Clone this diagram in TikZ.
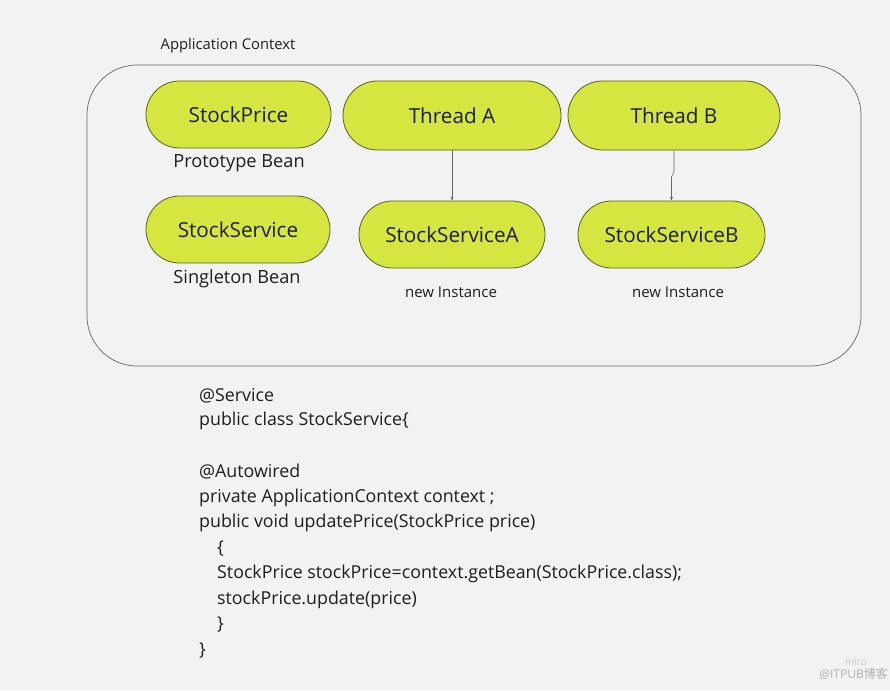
\documentclass[tikz,border=0pt]{standalone}
\usepackage{fontspec}
\setmainfont{Open Sans}
\newfontfamily\cjk{Noto Sans CJK SC}
\usetikzlibrary{arrows.meta}
\definecolor{bg}{HTML}{F2F2F2}
\definecolor{pillfill}{HTML}{D4E63F}
\definecolor{pilledge}{HTML}{5A5F28}
\definecolor{ink}{HTML}{1E1E1E}
\tikzset{
  pill/.style={draw=pilledge, fill=pillfill, line width=0.8pt, rounded corners=33.5pt,
    minimum height=67pt, inner sep=0pt, text=ink, font=\fontsize{20.7}{24}\selectfont},
  caption/.style={text=ink, font=\fontsize{18.2}{21}\selectfont, inner sep=0pt},
  small/.style={text=ink, font=\fontsize{15}{18}\selectfont, inner sep=0pt},
  code/.style={text=ink, font=\fontsize{17.8}{21}\selectfont, inner sep=0pt, anchor=west},
  conn/.style={draw=black!60, line width=0.6pt, -{Stealth[length=4pt,width=3pt]}}
}
\begin{document}
\begin{tikzpicture}[x=1pt,y=-1pt]
\fill[bg] (0,0) rectangle (890,690);
\useasboundingbox (0,0) rectangle (890,690);

\node[small, font=\fontsize{14.8}{17}\selectfont] (title) at (228,45.5) {Application Context};
\node[draw=black!60, line width=0.7pt, rounded corners=50pt, minimum width=774pt, minimum height=301pt] (ctx) at (474,215.5) {};

\node[pill, minimum width=185pt] (sp) at (238.5,114.5) {StockPrice};
\node[caption] (spl) at (239,163.5) {Prototype Bean};
\node[pill, minimum width=184pt] (ss) at (238,229.5) {StockService};
\node[caption] (ssl) at (237,278.5) {Singleton Bean};

\node[pill, minimum width=218pt, minimum height=69pt, rounded corners=34.5pt] (ta) at (452,115.5) {Thread A};
\node[pill, minimum width=212pt, minimum height=69pt, rounded corners=34.5pt] (tb) at (674,115.5) {Thread B};
\node[pill, minimum width=186pt] (sa) at (452,234.5) {StockServiceA};
\node[pill, minimum width=187pt] (sb) at (671.5,234.5) {StockServiceB};

\node[small] (na) at (451,292.5) {new Instance};
\node[small] (nb) at (678,292.5) {new Instance};

\draw[conn] (ta) -- (sa);
\coordinate (bj1) at (tb.south |- 0,172);
\coordinate (bj2) at (sb.north |- 0,177);
\draw[conn] (tb.south) -- (bj1) -- (bj2) -- (sb.north);

\node[code] (c1) at (199,395.5) {@Service};
\node[code] (c2) at (199,421) {public class StockService\{};
\node[code] (c3) at (199,472) {@Autowired};
\node[code] (c4) at (199,497.5) {private ApplicationContext context ;};
\node[code] (c5) at (199,523) {public void updatePrice(StockPrice price)};
\node[code] (c6) at (217,548.5) {\{};
\node[code] (c7) at (217,574) {StockPrice stockPrice=context.getBean(StockPrice.class);};
\node[code] (c8) at (217,599.5) {stockPrice.update(price)};
\node[code] (c9) at (217,625) {\}};
\node[code] (c10) at (199,650.5) {\}};

\node[text=black!22, font=\fontsize{10}{12}\selectfont, inner sep=0pt] (miro) at (856,662) {miro};
\node[text=black!30, font=\fontsize{12}{14}\selectfont, inner sep=0pt, anchor=east] (wm) at (888,674) {@ITPUB{\cjk 博客}};
\end{tikzpicture}
\end{document}
